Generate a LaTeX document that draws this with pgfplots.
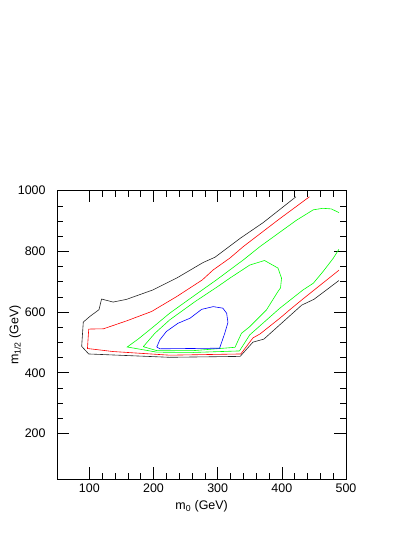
\documentclass[border=0pt]{standalone}
\usepackage{fontspec}
\setmainfont{Liberation Sans}
\usepackage{pgfplots}
\pgfplotsset{compat=1.18}
\begin{document}
\fontsize{12.5}{15}\selectfont
\begin{tikzpicture}
\begin{axis}[
 scale only axis, width=288.7bp, height=288.3bp,
 at={(0,0)}, anchor=south west,
 xmin=50, xmax=500, ymin=50, ymax=1000,
 xtick={100,200,300,400,500}, ytick={200,400,600,800,1000},
 minor x tick num=4, minor y tick num=3,
 major tick length=11.7bp, minor tick length=6bp,
 tick align=inside,
 axis line style={line width=0.6bp},
 every tick/.style={line width=0.6bp, black},
 /pgf/number format/assume math mode=true,
 /pgf/number format/1000 sep={},
 ticklabel style={font=\fontsize{12.5}{15}\selectfont},
 xticklabel style={anchor=north, yshift=0bp},
 yticklabel style={anchor=east, xshift=-7.4bp},
 xlabel={m\textsubscript{0} (GeV)},
 ylabel={m\textsubscript{1/2} (GeV)},
 xlabel style={at={(axis description cs:0.5,-0.094)}, anchor=center},
 ylabel style={at={(axis description cs:-0.146,0.5)}, anchor=center},
 every axis plot/.append style={line width=0.6bp, mark=none},
]
% black
\addplot[black!85] coordinates {
(422,980) (371,895) (335,843) (296,781) (277,763) (236,712) (199,673)
(158,642) (137,633) (119,643) (115,608) (101,586) (90.5,567) (88,487)
(99,462) (225,451) (335,454) (355,501) (372,511) (431,623) (450,642) (489,704)
};
% red
\addplot[red] coordinates {
(443,980) (395,905) (340,816) (319,778) (293,739) (276,706) (236,651)
(197,602) (158,571) (122,545) (99,544) (97,480) (137,470) (225,458)
(336,462) (355,515) (366,528) (397,580) (412,607) (431,640) (457,684) (489,738)
};
% green outer
\addplot[green] coordinates {
(489,928) (477,940) (464,942) (449,937) (423,903) (402,871) (366,816)
(340,772) (319,739) (298,706) (254,640) (225,596) (200,552) (176,511)
(159,485) (205,468) (262,467) (334,472) (350,525) (397,613) (433,673)
(449,695) (464,733) (480,777) (489,807)
};
% green inner
\addplot[green] coordinates {
(184,486) (202,530) (225,574) (265,635) (300,684) (319,712) (350,755)
(373,770) (394,745) (399.5,712) (398,680) (394,668) (376,607) (350,552)
(337,530) (327,484) (262,473) (205,473) (184,486)
};
% blue
\addplot[blue] coordinates {
(205,485) (210,509) (220,536) (238,563) (257,580) (275,609) (293,618)
(308,613) (314,596) (316,566) (311,530) (303,481) (210,479) (205,485)
};
\end{axis}
\path[use as bounding box] (-57.3bp,-58bp) rectangle (357.7bp,479bp);
\end{tikzpicture}
\end{document}
